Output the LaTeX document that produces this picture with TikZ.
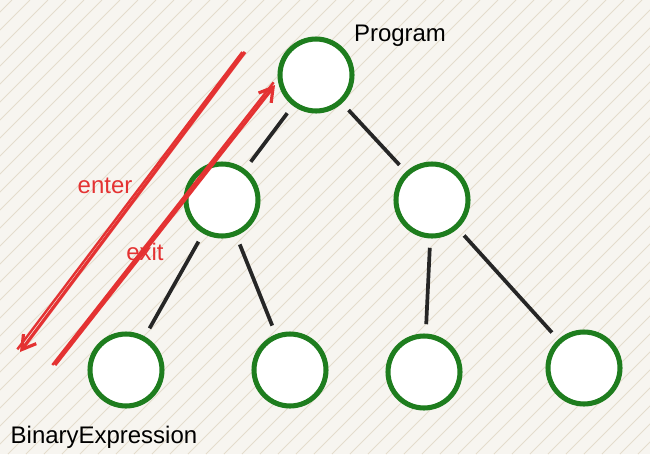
\documentclass[tikz,border=0pt]{standalone}
\usepackage{fontspec}
\setmainfont{Liberation Sans}
\usetikzlibrary{arrows.meta}
\definecolor{leaf}{RGB}{30,125,30}
\definecolor{pen}{RGB}{228,50,50}
\definecolor{hatch}{RGB}{228,220,205}
\tikzset{
  x=0.0264cm, y=-0.0264cm,
  tree/.style={circle, draw=leaf, line width=3.8pt, fill=white, minimum size=1.9cm},
  edge/.style={line width=2.8pt, black!85, shorten <=7pt, shorten >=7pt},
  walk/.style={pen, line width=2.4pt, -{Straight Barb[length=10pt,width=12pt]}},
  word/.style={font=\fontsize{18}{20}\selectfont},
}
\begin{document}
\begin{tikzpicture}
    % background
    \fill[hatch!30] (0,0) rectangle (650,454);
    \begin{scope}
      \clip (0,0) rectangle (650,454);
      \foreach \k in {-460,-442,...,650}
        \draw[hatch, line width=0.7pt] (\k,454) -- (\k+454,0);
    \end{scope}

    \node[tree] (prog) at (316,75) {};
    \node[tree] (left) at (222,200) {};
    \node[tree] (right) at (432,200) {};
    \node[tree] (ll) at (126,370) {};
    \node[tree] (lr) at (290,370) {};
    \node[tree] (rl) at (424,372) {};
    \node[tree] (rr) at (584,368) {};

    \draw[edge] (prog) -- (left);
    \draw[edge] (prog) -- (right);
    \draw[edge] (left) -- (ll);
    \draw[edge] (left) -- (lr);
    \draw[edge] (right) -- (rl);
    \draw[edge] (right) -- (rr);

    \node[word] (progtext) at (400,36) {Program};
    \node[word, anchor=west] (bintext) at (6,437) {BinaryExpression};

    % enter / exit
    \coordinate (enterA) at (245,52);
    \coordinate (enterB) at (20,352);
    \coordinate (exitA) at (55,365);
    \coordinate (exitB) at (275,85);
    \draw[walk] (enterA) -- (enterB);
    \draw[pen, line width=1.8pt] ([xshift=-2]enterA) -- ([xshift=-2,yshift=2]enterB);
    \draw[walk] (exitA) -- (exitB);
    \draw[pen, line width=1.8pt] ([xshift=-2]exitA) -- ([xshift=-1,yshift=2]exitB);
    \node[word, text=pen] (entertext) at (105,186) {enter};
    \node[word, text=pen] (exittext) at (145,252) {exit};
\end{tikzpicture}
\end{document}
